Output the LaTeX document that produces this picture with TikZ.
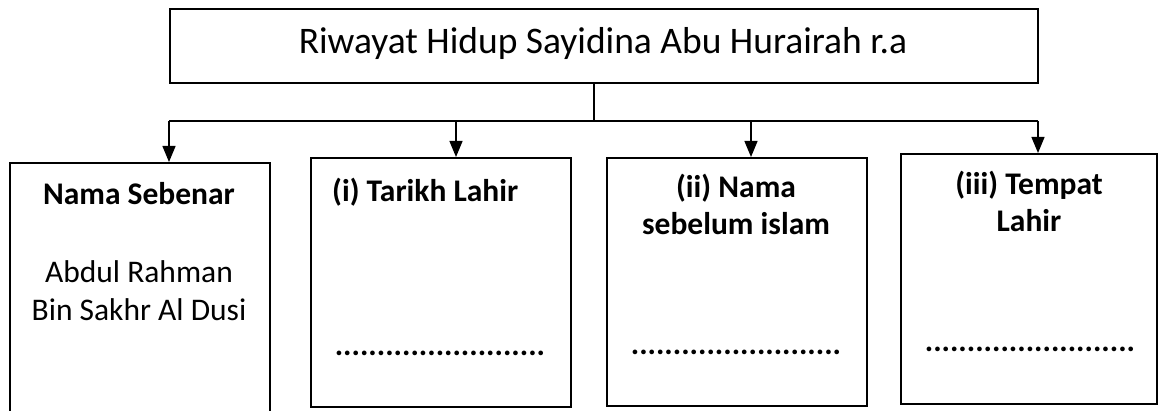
\documentclass[tikz,border=0pt]{standalone}
\usepackage{fontspec}
\setmainfont{Carlito}
\usetikzlibrary{arrows.meta}
\begin{document}
\begin{tikzpicture}[x=1pt,y=-1pt,
  box/.style={draw=black, line width=1.6pt, fill=none, inner sep=0pt, anchor=north west},
  conn/.style={draw=black, line width=1.3pt},
  arr/.style={conn, -{Triangle[width=13pt,length=16pt]}},
  ttl/.style={inner sep=0pt, anchor=base, font=\fontsize{37.5}{44}\selectfont},
  hd/.style={inner sep=0pt, anchor=base, font=\fontsize{31.5}{37}\selectfont\bfseries},
  bd/.style={inner sep=0pt, anchor=base, font=\fontsize{31.5}{37}\selectfont},
  dots/.style={inner sep=0pt, anchor=base, font=\fontsize{31.5}{37}\selectfont\bfseries}
]
\path[use as bounding box] (0,0) rectangle (1158,411);
% boxes
\node[box, minimum width=868pt, minimum height=74pt] (top) at (169,8) {};
\node[box, minimum width=260pt, minimum height=270pt] (b1) at (9,162) {};
\node[box, minimum width=260pt, minimum height=249pt] (b2) at (310,157) {};
\node[box, minimum width=260pt, minimum height=248pt] (b3) at (606,157) {};
\node[box, minimum width=256pt, minimum height=250pt] (b4) at (900,153) {};
% texts
\node[ttl] (title) at (603,54) {Riwayat Hidup Sayidina Abu Hurairah r.a};
\node[hd] (t1) at (139,205) {Nama Sebenar};
\node[bd] (t1a) at (139,283) {Abdul Rahman};
\node[bd] (t1b) at (139,320) {Bin Sakhr Al Dusi};
\node[hd, anchor=base west] (t2) at (332,202) {(i) Tarikh Lahir};
\node[dots] (d2) at (440,355) {.........................};
\node[hd] (t3a) at (736,198) {(ii) Nama};
\node[hd] (t3b) at (736,235) {sebelum islam};
\node[dots] (d3) at (736,354) {.........................};
\node[hd] (t4a) at (1029,195) {(iii) Tempat};
\node[hd] (t4b) at (1029,232) {Lahir};
\node[dots] (d4) at (1030,351) {.........................};
% connectors
\coordinate (j) at (594,121);
\coordinate (jL) at (169,121);
\coordinate (j2) at (456,121);
\coordinate (j3) at (751,121);
\coordinate (jR) at (1038,121);
\draw[conn] (j |- top.south) -- (j);
\draw[conn] (jL) -- (jR);
\draw[arr] (jL) -- (jL |- b1.north);
\draw[arr] (j2) -- (j2 |- b2.north);
\draw[arr] (j3) -- (j3 |- b3.north);
\draw[arr] (jR) -- (jR |- b4.north);
\end{tikzpicture}
\end{document}
